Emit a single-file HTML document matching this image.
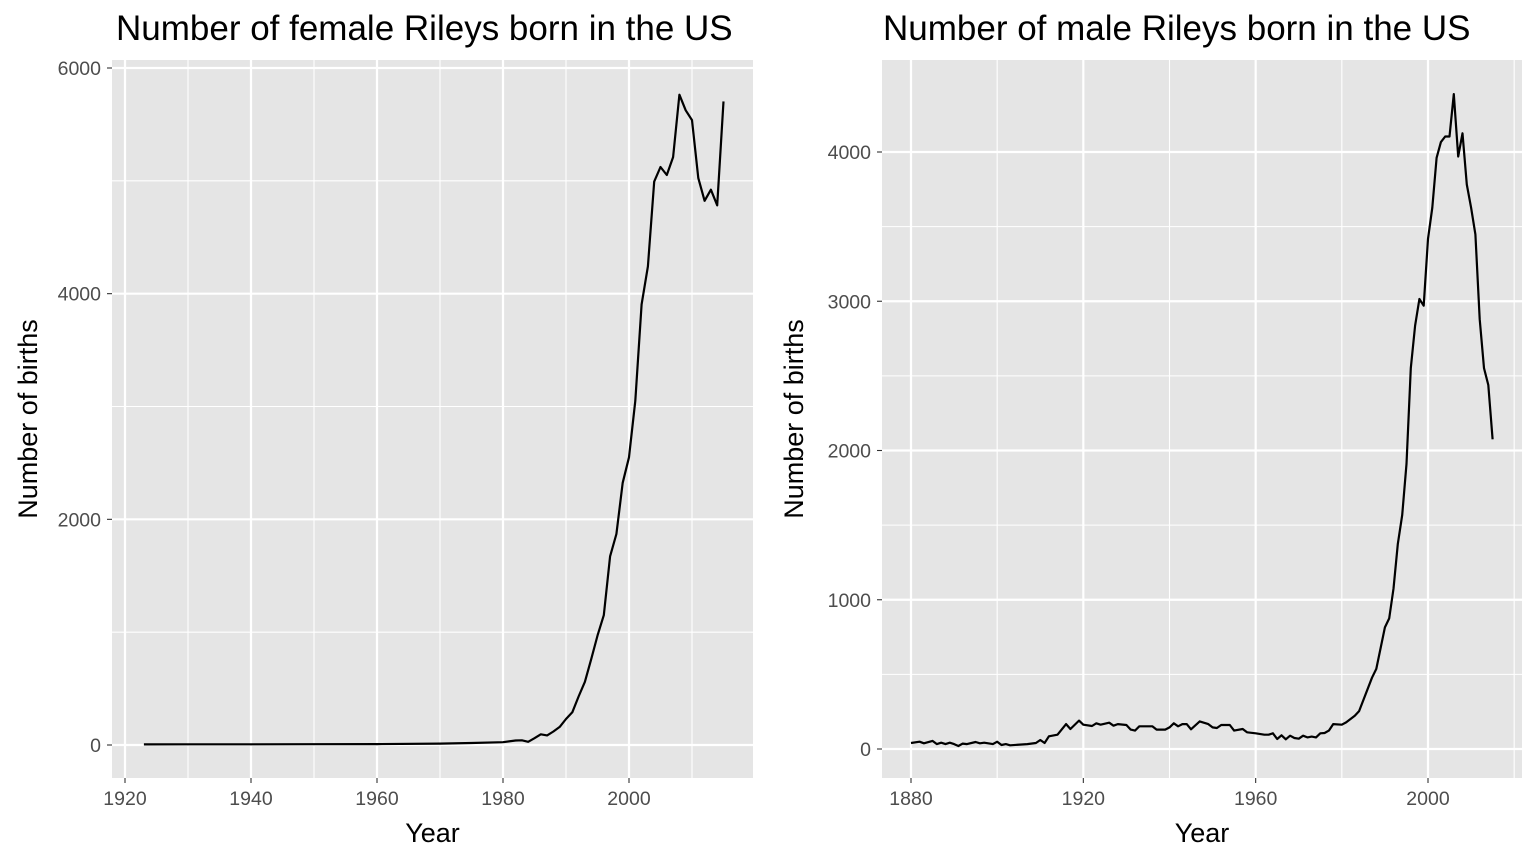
<!DOCTYPE html>
<html><head><meta charset="utf-8"><style>
body{margin:0;background:#fff}
svg{display:block;font-family:"Liberation Sans",Arial,sans-serif}
</style></head><body>
<svg id="chart" width="1536" height="864" viewBox="0 0 1536 864"></svg>
<script>
const femaleYears=[1923,1930,1940,1950,1960,1970,1975,1980,1982,1983,1984,1985,1986,1987,1988,1989,1990,1991,1992,1993,1994,1995,1996,1997,1998,1999,2000,2001,2002,2003,2004,2005,2006,2007,2008,2009,2010,2011,2012,2013,2014,2015];
const femaleBirths=[5,6,6,7,8,12,18,25,40,42,28,60,95,85,120,160,230,290,430,560,760,970,1150,1672,1870,2324,2550,3050,3905,4242,4993,5123,5052,5210,5763,5625,5538,5024,4823,4921,4783,5704];
const maleYears=[1880,1882,1883,1885,1886,1887,1888,1889,1890,1891,1892,1893,1895,1896,1897,1899,1900,1901,1902,1903,1907,1909,1910,1911,1912,1914,1916,1917,1919,1920,1922,1923,1924,1926,1927,1928,1930,1931,1932,1933,1936,1937,1939,1940,1941,1942,1943,1944,1945,1947,1949,1950,1951,1952,1954,1955,1957,1958,1960,1962,1963,1964,1965,1966,1967,1968,1969,1970,1971,1972,1973,1974,1975,1976,1977,1978,1980,1981,1983,1984,1987,1988,1990,1991,1992,1993,1994,1995,1996,1997,1998,1999,2000,2001,2002,2003,2004,2005,2006,2007,2008,2009,2010,2011,2012,2013,2014,2015];
const maleBirths=[40,49,38,54,33,42,33,42,33,20,36,33,47,38,42,33,49,27,33,25,33,40,60,40,85,96,167,134,190,163,154,172,163,176,156,167,161,130,123,152,152,130,130,145,172,152,167,167,132,185,167,145,141,161,161,123,134,112,105,96,96,105,67,92,65,89,74,69,89,78,83,78,105,107,123,167,163,178,223,254,478,537,815,875,1075,1373,1567,1910,2552,2836,3015,2970,3418,3627,3961,4066,4104,4104,4388,3970,4125,3782,3627,3448,2880,2552,2439,2075];
const femaleXTicks=[1920,1940,1960,1980,2000];
const femaleXMinor=[1930,1950,1970,1990,2010];
const femaleYTicks=[0,2000,4000,6000];
const femaleYMinor=[1000,3000,5000];
const maleXTicks=[1880,1920,1960,2000];
const maleXMinor=[1900,1940,1980,2020];
const maleYTicks=[0,1000,2000,3000,4000];
const maleYMinor=[500,1500,2500,3500];

const NS="http://www.w3.org/2000/svg";
const svg=document.getElementById('chart');
function mk(tag,attrs,parent){const e=document.createElementNS(NS,tag);for(const k in attrs)e.setAttribute(k,attrs[k]);(parent||svg).appendChild(e);return e;}
function lin(d0,d1,r0,r1){return v=>r0+(v-d0)*(r1-r0)/(d1-d0);}

function panel(cfg){
  const g=mk('g',{});
  
  
  const x=lin(cfg.xd[0],cfg.xd[1],cfg.xr[0],cfg.xr[1]);
  const y=lin(cfg.yd[0],cfg.yd[1],cfg.yr[0],cfg.yr[1]);
  const L=cfg.box[0],T=cfg.box[1],R=cfg.box[2],B=cfg.box[3];
  const bg=mk('rect',{x:L,y:T,width:R-L,height:B-T,fill:'#e5e5e5'},g);
  
  
  cfg.xMinor.forEach(v=>{const l=mk('line',{x1:x(v),x2:x(v),y1:T,y2:B,stroke:'#fff','stroke-width':1.1},g);});
  cfg.yMinor.forEach(v=>{const l=mk('line',{x1:L,x2:R,y1:y(v),y2:y(v),stroke:'#fff','stroke-width':1.1},g);});
  cfg.xTicks.forEach(v=>{
    const l=mk('line',{x1:x(v),x2:x(v),y1:T,y2:B,stroke:'#fff','stroke-width':2.2},g);
    
    
    const t=mk('line',{x1:x(v),x2:x(v),y1:B,y2:B+5,stroke:'#333','stroke-width':1.1},g);
    
    
    const tx=mk('text',{x:x(v),y:B+27,'text-anchor':'middle','font-size':19.5,fill:'#4d4d4d'},g);
    tx.textContent=v;
    
    
  });
  cfg.yTicks.forEach(v=>{
    const l=mk('line',{x1:L,x2:R,y1:y(v),y2:y(v),stroke:'#fff','stroke-width':2.2},g);
    
    
    const t=mk('line',{x1:L-5,x2:L,y1:y(v),y2:y(v),stroke:'#333','stroke-width':1.1},g);
    
    
    const tx=mk('text',{x:L-11,y:y(v)+7,'text-anchor':'end','font-size':19.5,fill:'#4d4d4d'},g);
    tx.textContent=v;
    
    
  });
  const pts=cfg.xs.map((yr,i)=>x(yr).toFixed(1)+','+y(cfg.ys[i]).toFixed(1)).join(' ');
  const pl=mk('polyline',{points:pts,fill:'none',stroke:'#000','stroke-width':2.2,'stroke-linejoin':'round'},g);
  
  
  const title=mk('text',{x:cfg.titleX,y:40,'font-size':35,fill:'#000'},g);
  title.textContent=cfg.title;
  
  
  const xt=mk('text',{x:(L+R)/2,y:842,'text-anchor':'middle','font-size':27,fill:'#000'},g);
  xt.textContent='Year';
  
  
  const cy=(T+B)/2;
  const yt=mk('text',{x:cfg.ytX,y:cy,'text-anchor':'middle','font-size':27,fill:'#000',transform:'rotate(-90 '+cfg.ytX+' '+cy+')'},g);
  yt.textContent='Number of births';
  
  
}
panel({name:'female-panel',box:[112,60,753,778],xd:[1920,2000],xr:[125,629],yd:[0,6000],yr:[745,68],
  xTicks:femaleXTicks,xMinor:femaleXMinor,yTicks:femaleYTicks,yMinor:femaleYMinor,xs:femaleYears,ys:femaleBirths,
  title:'Number of female Rileys born in the US',titleX:116,ytX:37});
panel({name:'male-panel',box:[882,60,1522,778],xd:[1880,2000],xr:[911,1428],yd:[0,4000],yr:[749,152],
  xTicks:maleXTicks,xMinor:maleXMinor,yTicks:maleYTicks,yMinor:maleYMinor,xs:maleYears,ys:maleBirths,
  title:'Number of male Rileys born in the US',titleX:883,ytX:803});
</script>
</body></html>
